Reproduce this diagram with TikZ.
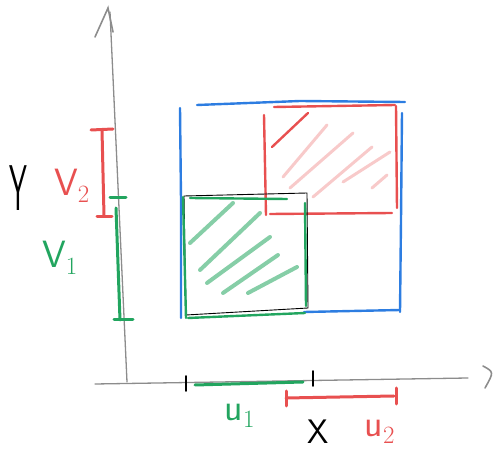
\documentclass[tikz,border=0pt]{standalone}
\usepackage{xcolor}
\usepackage{tikz}
\usetikzlibrary{arrows.meta}

\definecolor{pgreen}{RGB}{34,165,95}
\definecolor{pred}{RGB}{232,80,80}
\definecolor{pblue}{RGB}{45,125,225}
\definecolor{pgray}{RGB}{140,140,140}

\begin{document}
\begin{tikzpicture}[x=1pt,y=-1pt,line cap=round,
  axis/.style={pgray,line width=1.3pt},
  tick/.style={black,line width=1.6pt},
  seg/.style={line width=3pt},
  edge/.style={line width=2.4pt},
  hatch/.style={line width=4pt,opacity=0.55},
  lbl/.style={font=\sffamily\fontsize{38}{44}\selectfont}]
\useasboundingbox (0,0) rectangle (496,454);
% axes
\draw[axis](127,382)--(110,12);
\draw[axis](95,384)--(468,378);
\draw[axis,line width=1.6pt](95,37)--(108,8)--(113,32);
\draw[axis,line width=1.6pt](483,366)..controls(494,372)..(485,388);
\node[lbl,black](ylab) at (18,188){\scalebox{0.75}[1.7]{Y}};
\node[lbl,black,font=\sffamily\fontsize{34}{40}\selectfont,inner sep=1pt](xlab) at (318,432){X};
% ticks on x axis
\draw[tick](186,376)--(186,391);
\draw[tick](313,371)--(313,386);
% u1 and u2
\draw[pgreen,seg](195,385)--(303,382);
\draw[pred,seg](286,398)--(394,396);
\draw[pred,seg](286,391)--(286,406);
\draw[pred,seg](396,388)--(396,404);
\node[lbl,pgreen](u1) at (240,416){u$_1$};
\node[lbl,pred](u2) at (380,432){u$_2$};
% v1 and v2
\draw[pred,seg](102,130)--(104,216);
\draw[pred,seg](91,130)--(113,129);
\draw[pred,seg](97,217)--(112,217);
\draw[pgreen,seg](116,208)--(120,320);
\draw[pgreen,seg](110,198)--(126,198);
\draw[pgreen,seg](114,320)--(133,320);
\node[lbl,pred](v2) at (72,186){V$_2$};
\node[lbl,pgreen](v1) at (60,258){V$_1$};
% blue rectangle
\draw[pblue,edge](197,105)--(300,101)--(405,102);
\draw[pblue,edge](180,108)--(181,200)--(181,318);
\draw[pblue,edge](402,113)--(401,220)--(400,312);
\draw[pblue,edge](304,312)--(400,310);
% red rectangle
\draw[pred,edge](274,107)--(395,105);
\draw[pred,edge](264,115)--(266,215);
\draw[pred,edge](396,106)--(397,208);
\draw[pred,edge](270,214)--(392,213);
% black square
\draw[black,line width=0.9pt](184,196)--(307,193)--(308,308)--(186,315)--cycle;
% green square
\draw[pgreen,edge](190,198)--(287,199);
\draw[pgreen,edge](183,197)--(186,318);
\draw[pgreen,edge](305,203)--(306,306);
\draw[pgreen,edge](188,318)--(305,313);
% hatching
\foreach \a/\b/\c/\d in {190/243/233/203,200/270/260/213,207/283/270/237,223/293/278/255,248/293/297/267}
  \draw[pgreen,hatch](\a,\b)--(\c,\d);
\draw[pred,line width=2.4pt](272,147)--(308,113);
\foreach \a/\b/\c/\d in {283/177/327/125,290/188/353/133,313/197/372/147,343/182/390/152,372/188/387/175}
  \draw[pred,hatch,line width=3pt,opacity=0.3](\a,\b)--(\c,\d);
\end{tikzpicture}
\end{document}
